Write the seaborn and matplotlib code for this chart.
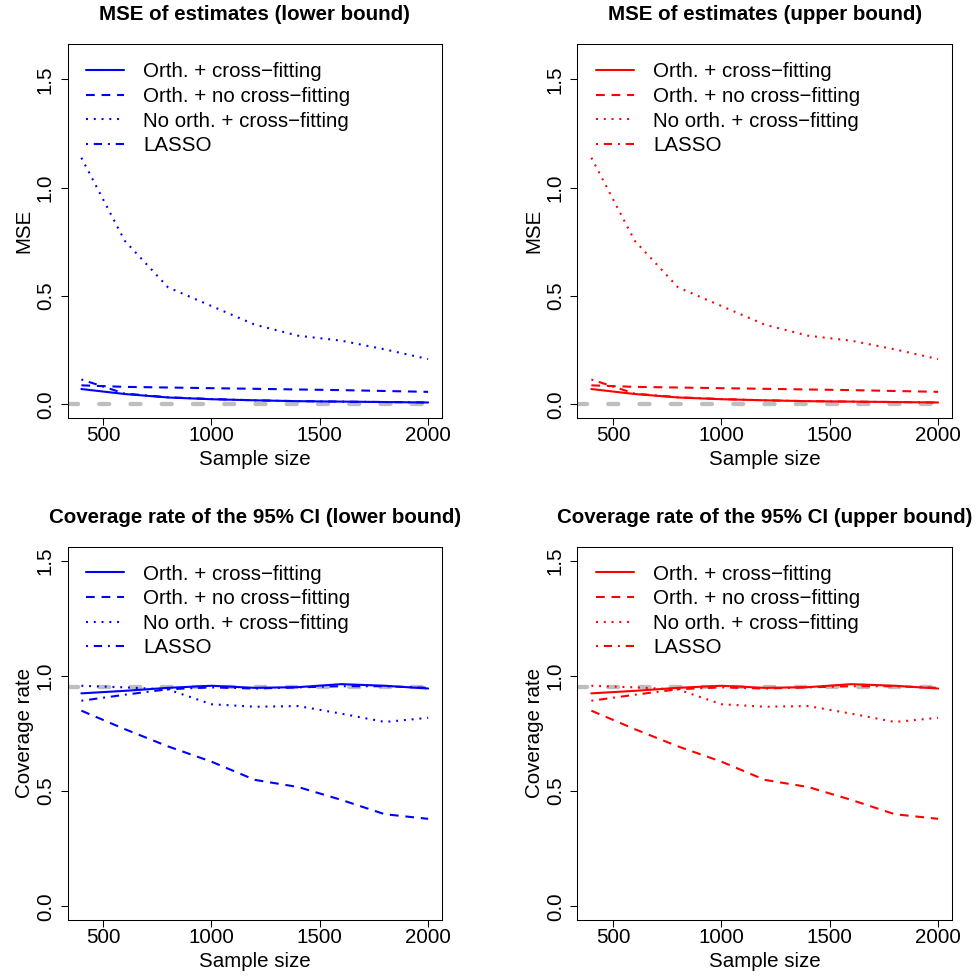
import matplotlib
matplotlib.use("Agg")
import matplotlib.pyplot as plt
import seaborn as sns

# Simulation grid
sample_size = [400, 600, 800, 1000, 1200, 1400, 1600, 1800, 2000]

methods = ["Orth. + cross\u2212fitting",
           "Orth. + no cross\u2212fitting",
           "No orth. + cross\u2212fitting",
           "LASSO"]

# MSE of the estimated bounds
mse_lower_orth_cf = [0.071, 0.048, 0.032, 0.024, 0.019, 0.015, 0.013, 0.011, 0.009]
mse_lower_orth_nocf = [0.088, 0.081, 0.078, 0.075, 0.072, 0.069, 0.066, 0.062, 0.058]
mse_lower_noorth_cf = [1.138, 0.755, 0.540, 0.454, 0.368, 0.317, 0.294, 0.254, 0.209]
mse_lower_lasso = [0.115, 0.050, 0.033, 0.025, 0.019, 0.015, 0.013, 0.011, 0.009]

mse_upper_orth_cf = [0.071, 0.048, 0.032, 0.024, 0.019, 0.015, 0.013, 0.011, 0.009]
mse_upper_orth_nocf = [0.088, 0.081, 0.078, 0.075, 0.072, 0.069, 0.066, 0.062, 0.058]
mse_upper_noorth_cf = [1.138, 0.755, 0.540, 0.454, 0.368, 0.317, 0.294, 0.254, 0.209]
mse_upper_lasso = [0.115, 0.050, 0.033, 0.025, 0.019, 0.015, 0.013, 0.011, 0.009]

# Coverage of the 95% confidence intervals
cov_lower_orth_cf = [0.924, 0.935, 0.948, 0.957, 0.948, 0.951, 0.964, 0.957, 0.945]
cov_lower_orth_nocf = [0.849, 0.769, 0.694, 0.628, 0.549, 0.518, 0.462, 0.400, 0.380]
cov_lower_noorth_cf = [0.957, 0.950, 0.941, 0.877, 0.866, 0.869, 0.836, 0.800, 0.818]
cov_lower_lasso = [0.892, 0.918, 0.942, 0.950, 0.945, 0.950, 0.955, 0.955, 0.948]

cov_upper_orth_cf = [0.924, 0.935, 0.948, 0.957, 0.948, 0.951, 0.964, 0.957, 0.945]
cov_upper_orth_nocf = [0.849, 0.769, 0.694, 0.628, 0.549, 0.518, 0.462, 0.400, 0.380]
cov_upper_noorth_cf = [0.957, 0.950, 0.941, 0.877, 0.866, 0.869, 0.836, 0.800, 0.818]
cov_upper_lasso = [0.892, 0.918, 0.942, 0.950, 0.945, 0.950, 0.955, 0.955, 0.948]

x_ticks = [500, 1000, 1500, 2000]
y_ticks = [0.0, 0.5, 1.0, 1.5]
y_tick_labels = ["0.0", "0.5", "1.0", "1.5"]

plt.rcParams.update({
    "font.family": ["Liberation Sans", "DejaVu Sans"],
    "font.size": 14.8,
    "lines.scale_dashes": False,
    "axes.linewidth": 0.75,
    "xtick.major.size": 4.8,
    "ytick.major.size": 4.8,
    "xtick.major.width": 0.75,
    "ytick.major.width": 0.75,
    "xtick.labelsize": 14.8,
    "ytick.labelsize": 14.8,
    "axes.labelsize": 14.8,
})

LW = 1.5
line_styles = ["-",
               (0, (6.3, 4.9)),
               (0, (1.4, 4.2)),
               (0, (1.4, 4.2, 6.0, 4.2))]

W, H = 979, 977
fig = plt.figure(figsize=(W / 100, H / 100), dpi=100)


def add_panel(left, top, right, bottom):
    return fig.add_axes([left / W, 1 - bottom / H, (right - left) / W, (bottom - top) / H])


def draw_panel(ax, series, color, title, ylabel, ylim, ref, legend_top):
    ax.axhline(ref, color="#BEBEBE", lw=3.1, linestyle=(0, (7.2, 15.3)),
               dash_capstyle="round", zorder=1)
    for values, label, ls in zip(series, methods, line_styles):
        sns.lineplot(x=sample_size, y=values, color=color, lw=LW, linestyle=ls,
                     dash_capstyle="butt", solid_capstyle="round",
                     label=label, ax=ax, zorder=2)
    ax.set_xlim(336, 2064)
    ax.set_ylim(*ylim)
    ax.set_xticks(x_ticks)
    ax.set_xticklabels([str(t) for t in x_ticks])
    ax.set_yticks(y_ticks)
    ax.set_yticklabels(y_tick_labels, rotation=90, va="center")
    ax.tick_params(axis="x", pad=0.5)
    ax.tick_params(axis="y", pad=4.3)
    ax.set_xlabel("Sample size", labelpad=4.0)
    ax.set_ylabel(ylabel, labelpad=1.5)
    ax.set_title(title, fontweight="bold", fontsize=14.8, pad=17.3)
    for s in ax.spines.values():
        s.set_color("black")
    ax.legend(loc="upper left", bbox_to_anchor=(0.0494, legend_top),
              frameon=False, handlelength=1.84, handletextpad=0.94,
              labelspacing=0.27, borderpad=0.0, borderaxespad=0.0,
              fontsize=14.8)


ax_tl = add_panel(67.5, 43.7, 442.0, 418.3)
ax_tr = add_panel(577.5, 43.7, 952.0, 418.3)
ax_bl = add_panel(67.5, 546.7, 442.0, 920.3)
ax_br = add_panel(577.5, 546.7, 952.0, 920.3)

draw_panel(ax_tl,
           [mse_lower_orth_cf, mse_lower_orth_nocf, mse_lower_noorth_cf, mse_lower_lasso],
           "blue", "MSE of estimates (lower bound)", "MSE", (-0.064, 1.664), 0.0, 0.950)
draw_panel(ax_tr,
           [mse_upper_orth_cf, mse_upper_orth_nocf, mse_upper_noorth_cf, mse_upper_lasso],
           "red", "MSE of estimates (upper bound)", "MSE", (-0.064, 1.664), 0.0, 0.950)
draw_panel(ax_bl,
           [cov_lower_orth_cf, cov_lower_orth_nocf, cov_lower_noorth_cf, cov_lower_lasso],
           "blue", "Coverage rate of the 95% CI (lower bound)", "Coverage rate",
           (-0.06, 1.56), 0.95, 0.952)
draw_panel(ax_br,
           [cov_upper_orth_cf, cov_upper_orth_nocf, cov_upper_noorth_cf, cov_upper_lasso],
           "red", "Coverage rate of the 95% CI (upper bound)", "Coverage rate",
           (-0.06, 1.56), 0.95, 0.952)

fig.savefig("out.png", dpi=100)
